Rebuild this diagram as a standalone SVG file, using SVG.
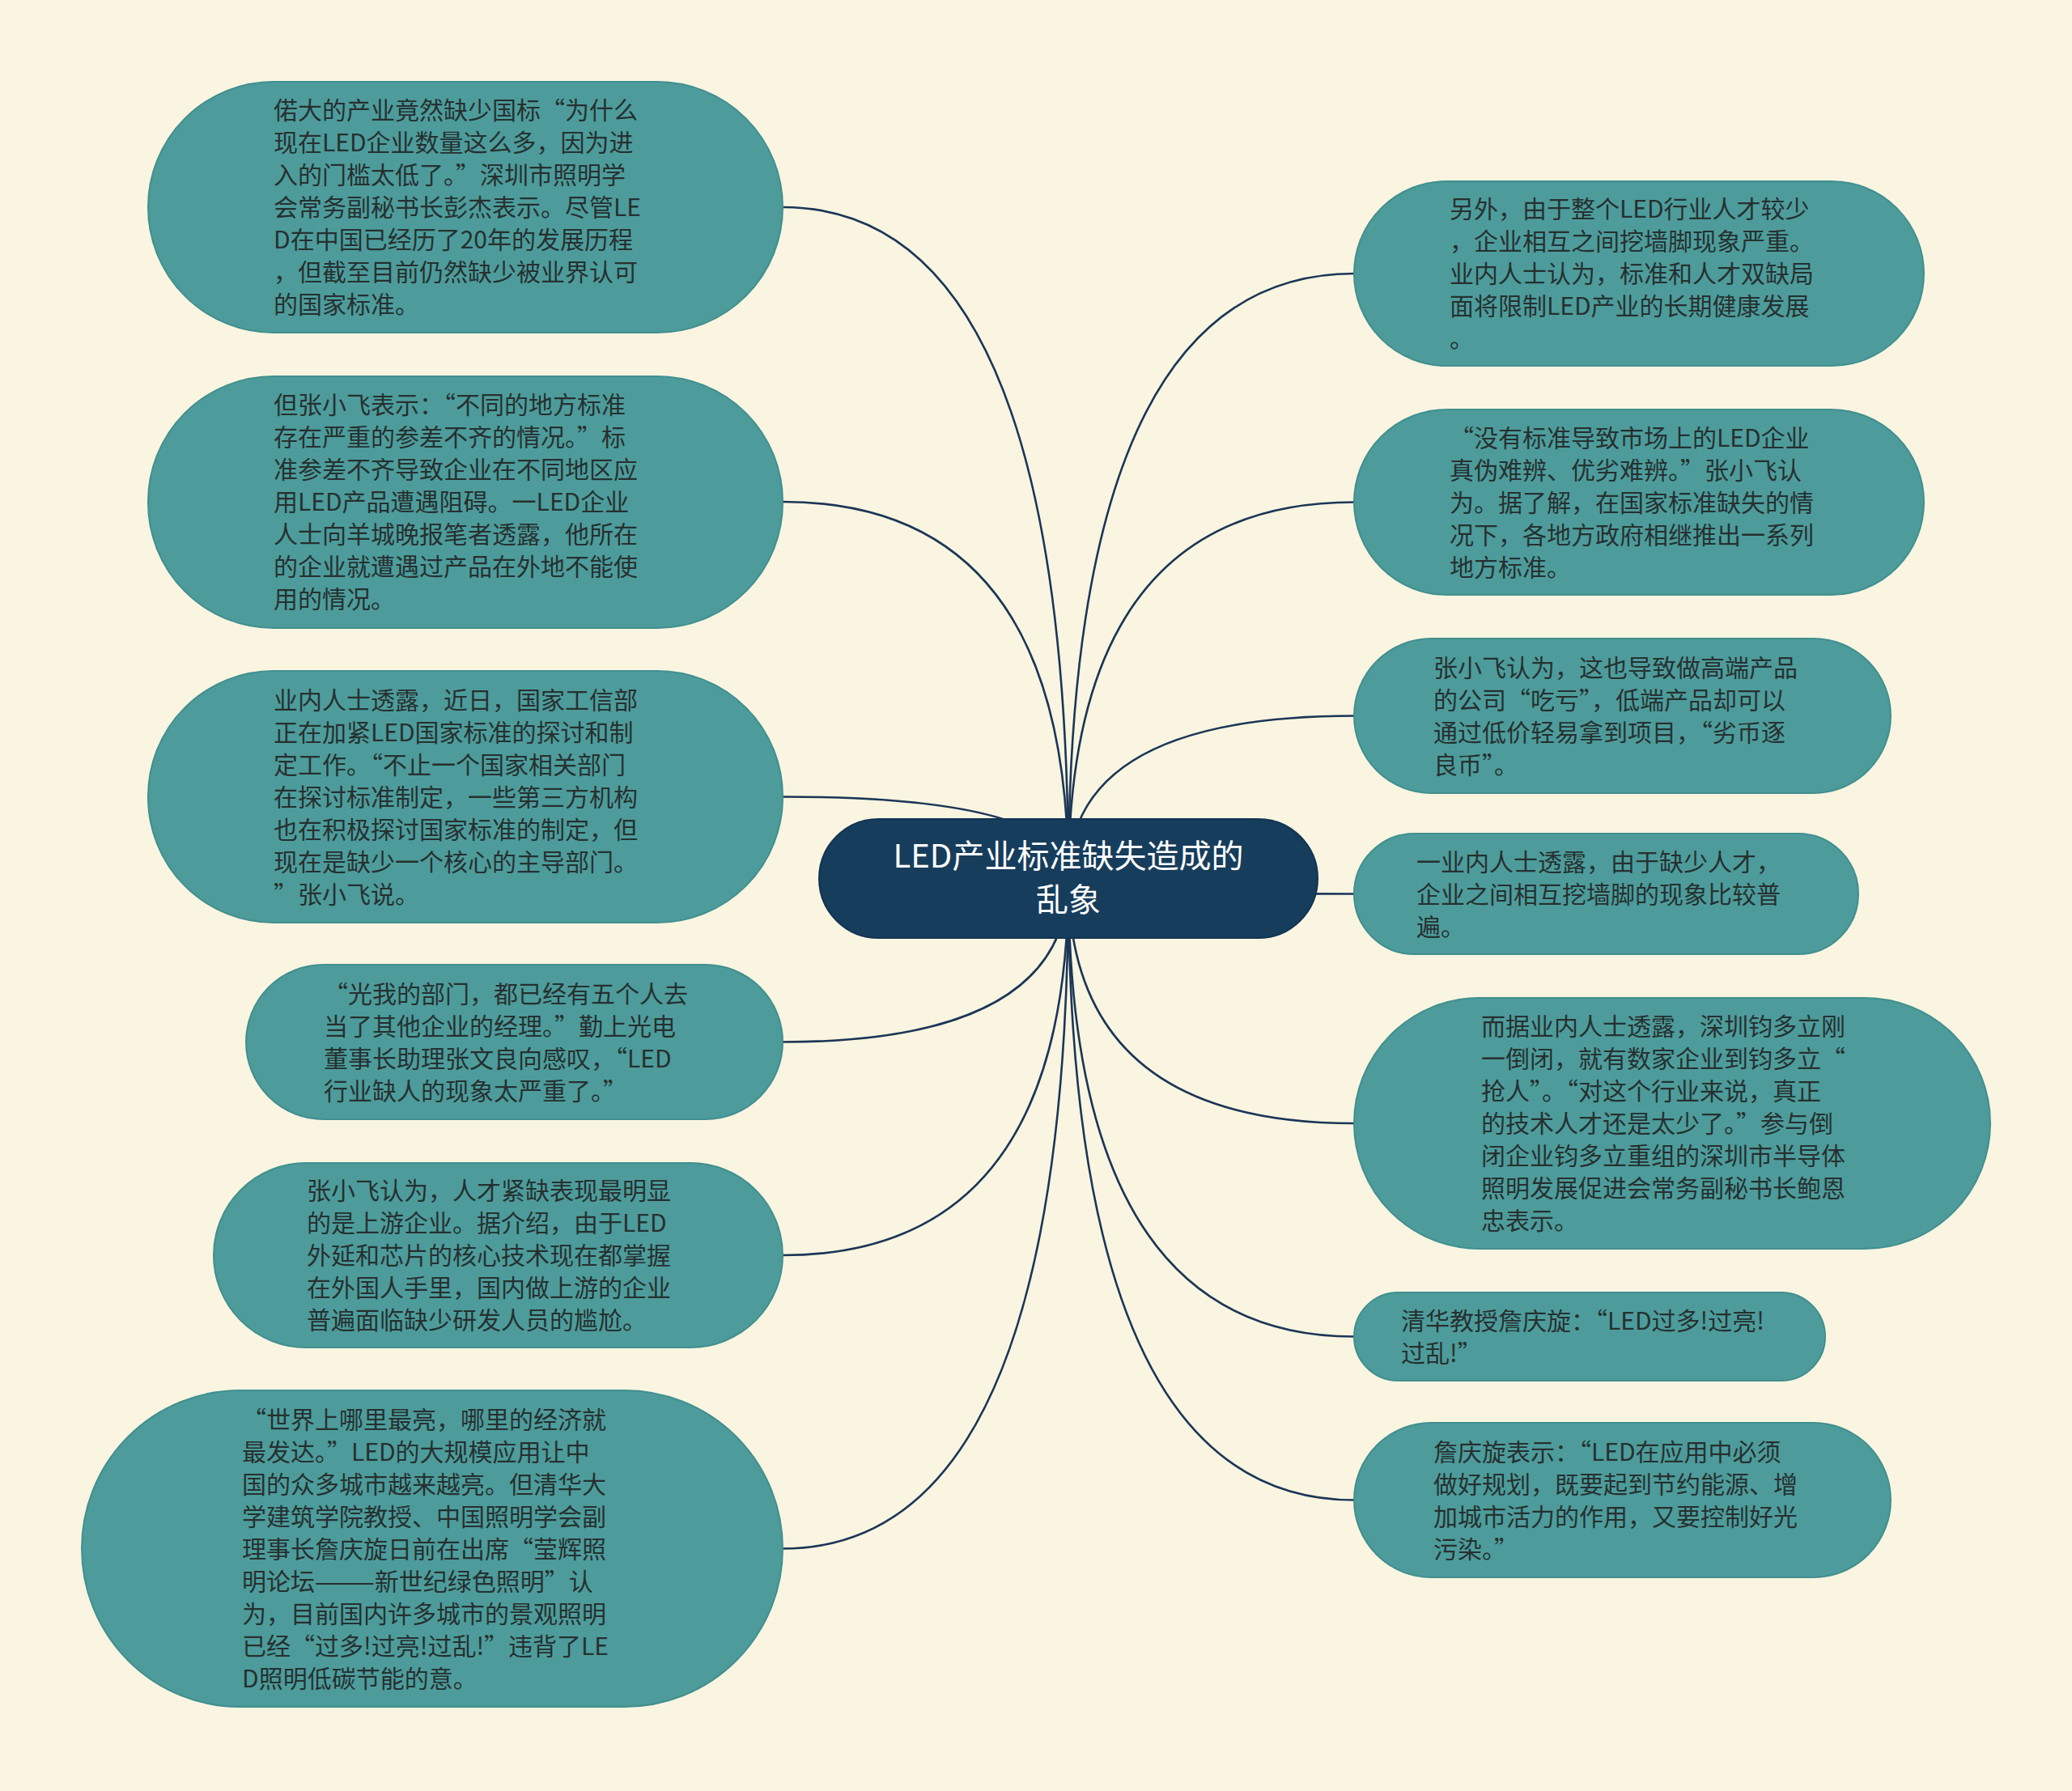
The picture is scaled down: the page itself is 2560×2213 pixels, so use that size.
<svg xmlns="http://www.w3.org/2000/svg" width="2560" height="2213" viewBox="0 0 2560 2213">
<style>
.bg{fill:#f9f5e1}
.leaf{fill:#4d9c9b;stroke:#418f8f;stroke-width:2}
.root{fill:#173d5c;stroke:#123452;stroke-width:2}
.t{font-family:"Noto Sans CJK SC","Noto Sans",sans-serif;font-size:30px;fill:#263030}
.rt{font-family:"Noto Sans CJK SC","Noto Sans",sans-serif;font-size:40px;fill:#ffffff;text-anchor:middle}
.edge{fill:none;stroke:#1b3656;stroke-width:2.6}
</style>
<rect class="bg" x="0" y="0" width="2560" height="2213"/>
<g id="connectors">
<path class="edge" d="M967,256 Q1320,256 1320,1085.5"/>
<path class="edge" d="M967,620 Q1320,620 1320,1085.5"/>
<path class="edge" d="M967,984.5 Q1320,984.5 1320,1085.5"/>
<path class="edge" d="M967,1287.5 Q1320,1287.5 1320,1085.5"/>
<path class="edge" d="M967,1551 Q1320,1551 1320,1085.5"/>
<path class="edge" d="M967,1913.5 Q1320,1913.5 1320,1085.5"/>
<path class="edge" d="M1673,338 Q1320,338 1320,1085.5"/>
<path class="edge" d="M1673,620.5 Q1320,620.5 1320,1085.5"/>
<path class="edge" d="M1673,884.5 Q1320,884.5 1320,1085.5"/>
<path class="edge" d="M1673,1104.5 Q1320,1104.5 1320,1085.5"/>
<path class="edge" d="M1673,1388 Q1320,1388 1320,1085.5"/>
<path class="edge" d="M1673,1651.5 Q1320,1651.5 1320,1085.5"/>
<path class="edge" d="M1673,1853.5 Q1320,1853.5 1320,1085.5"/>
</g>
<g id="root">
<rect class="root" x="1012" y="1012" width="616" height="147" rx="73.5"/>
<text class="rt"><tspan x="1320" y="1072">LED产业标准缺失造成的</tspan><tspan x="1320" y="1126">乱象</tspan></text>
</g>
<g id="L1">
<rect class="leaf" x="183" y="101" width="784" height="310" rx="155"/>
<text class="t"><tspan x="338" y="147">偌大的产业竟然缺少国标“为什么</tspan><tspan x="338" dy="40">现在LED企业数量这么多，因为进</tspan><tspan x="338" dy="40">入的门槛太低了。”深圳市照明学</tspan><tspan x="338" dy="40">会常务副秘书长彭杰表示。尽管LE</tspan><tspan x="338" dy="40">D在中国已经历了20年的发展历程</tspan><tspan x="338" dy="40">，但截至目前仍然缺少被业界认可</tspan><tspan x="338" dy="40">的国家标准。</tspan></text>
</g>
<g id="L2">
<rect class="leaf" x="183" y="465" width="784" height="311" rx="155"/>
<text class="t"><tspan x="338" y="511">但张小飞表示：“不同的地方标准</tspan><tspan x="338" dy="40">存在严重的参差不齐的情况。”标</tspan><tspan x="338" dy="40">准参差不齐导致企业在不同地区应</tspan><tspan x="338" dy="40">用LED产品遭遇阻碍。一LED企业</tspan><tspan x="338" dy="40">人士向羊城晚报笔者透露，他所在</tspan><tspan x="338" dy="40">的企业就遭遇过产品在外地不能使</tspan><tspan x="338" dy="40">用的情况。</tspan></text>
</g>
<g id="L3">
<rect class="leaf" x="183" y="829" width="784" height="311" rx="155"/>
<text class="t"><tspan x="338" y="875.5">业内人士透露，近日，国家工信部</tspan><tspan x="338" dy="40">正在加紧LED国家标准的探讨和制</tspan><tspan x="338" dy="40">定工作。“不止一个国家相关部门</tspan><tspan x="338" dy="40">在探讨标准制定，一些第三方机构</tspan><tspan x="338" dy="40">也在积极探讨国家标准的制定，但</tspan><tspan x="338" dy="40">现在是缺少一个核心的主导部门。</tspan><tspan x="338" dy="40">”张小飞说。</tspan></text>
</g>
<g id="L4">
<rect class="leaf" x="304" y="1192" width="663" height="191" rx="95.5"/>
<text class="t"><tspan x="400" y="1238.5">“光我的部门，都已经有五个人去</tspan><tspan x="400" dy="40">当了其他企业的经理。”勤上光电</tspan><tspan x="400" dy="40">董事长助理张文良向感叹，“LED</tspan><tspan x="400" dy="40">行业缺人的现象太严重了。”</tspan></text>
</g>
<g id="L5">
<rect class="leaf" x="264" y="1437" width="703" height="228" rx="114"/>
<text class="t"><tspan x="379" y="1482">张小飞认为，人才紧缺表现最明显</tspan><tspan x="379" dy="40">的是上游企业。据介绍，由于LED</tspan><tspan x="379" dy="40">外延和芯片的核心技术现在都掌握</tspan><tspan x="379" dy="40">在外国人手里，国内做上游的企业</tspan><tspan x="379" dy="40">普遍面临缺少研发人员的尴尬。</tspan></text>
</g>
<g id="L6">
<rect class="leaf" x="101" y="1718" width="866" height="391" rx="195.5"/>
<text class="t"><tspan x="299" y="1764.5">“世界上哪里最亮，哪里的经济就</tspan><tspan x="299" dy="40">最发达。”LED的大规模应用让中</tspan><tspan x="299" dy="40">国的众多城市越来越亮。但清华大</tspan><tspan x="299" dy="40">学建筑学院教授、中国照明学会副</tspan><tspan x="299" dy="40">理事长詹庆旋日前在出席“莹辉照</tspan><tspan x="299" dy="40">明论坛———新世纪绿色照明”认</tspan><tspan x="299" dy="40">为，目前国内许多城市的景观照明</tspan><tspan x="299" dy="40">已经“过多!过亮!过乱!”违背了LE</tspan><tspan x="299" dy="40">D照明低碳节能的意。</tspan></text>
</g>
<g id="R1">
<rect class="leaf" x="1673" y="224" width="704" height="228" rx="114"/>
<text class="t"><tspan x="1791" y="269">另外，由于整个LED行业人才较少</tspan><tspan x="1791" dy="40">，企业相互之间挖墙脚现象严重。</tspan><tspan x="1791" dy="40">业内人士认为，标准和人才双缺局</tspan><tspan x="1791" dy="40">面将限制LED产业的长期健康发展</tspan><tspan x="1791" dy="40">。</tspan></text>
</g>
<g id="R2">
<rect class="leaf" x="1673" y="506" width="704" height="229" rx="114.5"/>
<text class="t"><tspan x="1791" y="551.5">“没有标准导致市场上的LED企业</tspan><tspan x="1791" dy="40">真伪难辨、优劣难辨。”张小飞认</tspan><tspan x="1791" dy="40">为。据了解，在国家标准缺失的情</tspan><tspan x="1791" dy="40">况下，各地方政府相继推出一系列</tspan><tspan x="1791" dy="40">地方标准。</tspan></text>
</g>
<g id="R3">
<rect class="leaf" x="1673" y="789" width="663" height="191" rx="95.5"/>
<text class="t"><tspan x="1771" y="835.5">张小飞认为，这也导致做高端产品</tspan><tspan x="1771" dy="40">的公司“吃亏”，低端产品却可以</tspan><tspan x="1771" dy="40">通过低价轻易拿到项目，“劣币逐</tspan><tspan x="1771" dy="40">良币”。</tspan></text>
</g>
<g id="R4">
<rect class="leaf" x="1673" y="1030" width="623" height="149" rx="74.5"/>
<text class="t"><tspan x="1750" y="1075.5">一业内人士透露，由于缺少人才，</tspan><tspan x="1750" dy="40">企业之间相互挖墙脚的现象比较普</tspan><tspan x="1750" dy="40">遍。</tspan></text>
</g>
<g id="R5">
<rect class="leaf" x="1673" y="1233" width="786" height="310" rx="155"/>
<text class="t"><tspan x="1830" y="1279">而据业内人士透露，深圳钧多立刚</tspan><tspan x="1830" dy="40">一倒闭，就有数家企业到钧多立“</tspan><tspan x="1830" dy="40">抢人”。“对这个行业来说，真正</tspan><tspan x="1830" dy="40">的技术人才还是太少了。”参与倒</tspan><tspan x="1830" dy="40">闭企业钧多立重组的深圳市半导体</tspan><tspan x="1830" dy="40">照明发展促进会常务副秘书长鲍恩</tspan><tspan x="1830" dy="40">忠表示。</tspan></text>
</g>
<g id="R6">
<rect class="leaf" x="1673" y="1597" width="582" height="109" rx="54.5"/>
<text class="t"><tspan x="1731" y="1642.5">清华教授詹庆旋：“LED过多!过亮!</tspan><tspan x="1731" dy="40">过乱!”</tspan></text>
</g>
<g id="R7">
<rect class="leaf" x="1673" y="1758" width="663" height="191" rx="95.5"/>
<text class="t"><tspan x="1771" y="1804.5">詹庆旋表示：“LED在应用中必须</tspan><tspan x="1771" dy="40">做好规划，既要起到节约能源、增</tspan><tspan x="1771" dy="40">加城市活力的作用，又要控制好光</tspan><tspan x="1771" dy="40">污染。”</tspan></text>
</g>
</svg>
